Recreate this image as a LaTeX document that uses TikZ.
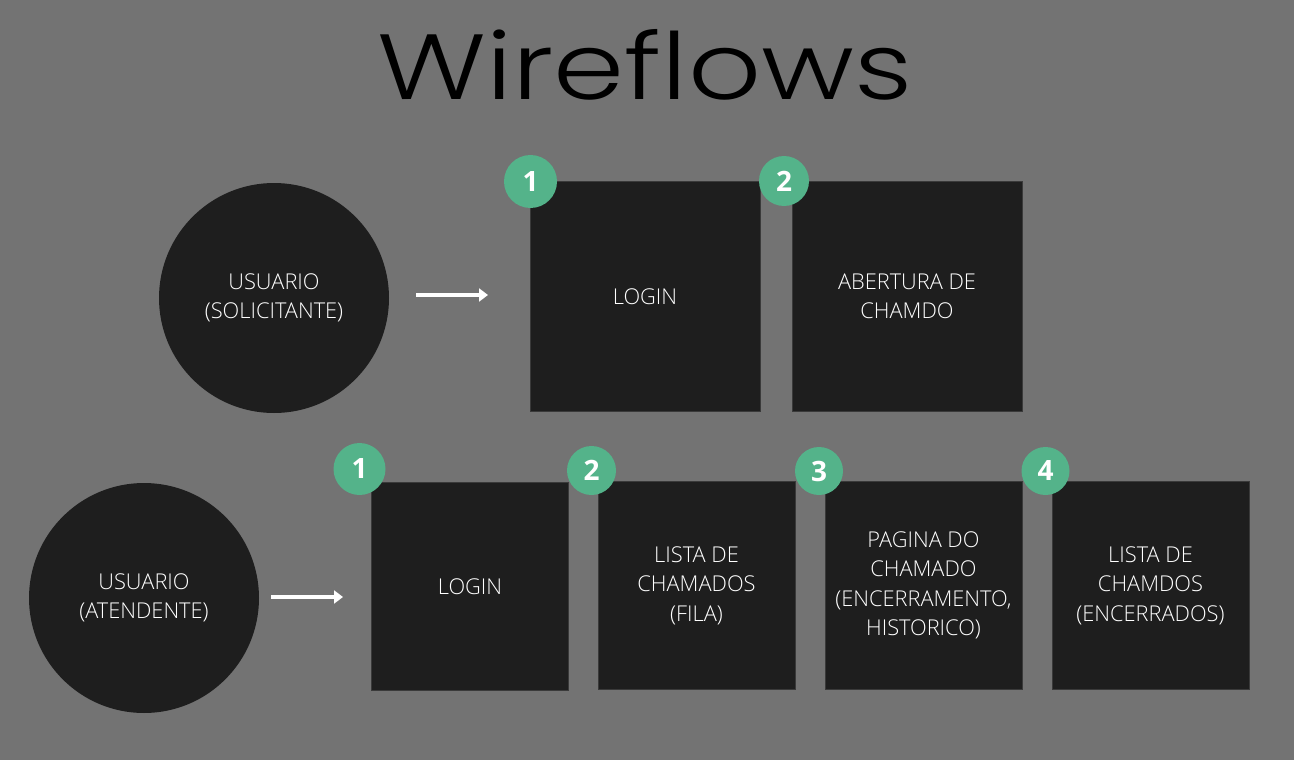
\documentclass[tikz,border=0pt]{standalone}
\usepackage{fontspec}
\usepackage{graphicx}
\setmainfont{Open Sans Light}
\newfontfamily\badgefont{Open Sans}
\newfontfamily\titlefont{Poppins Light}
\usetikzlibrary{arrows.meta}
\definecolor{canvas}{HTML}{737373}
\definecolor{panel}{HTML}{1E1E1E}
\definecolor{paneledge}{HTML}{3A3A3A}
\definecolor{badgegreen}{HTML}{54B38A}
\begin{document}
\begin{tikzpicture}[x=1pt,y=-1pt,
  screen/.style={draw=paneledge,line width=1pt,fill=panel,text=white,align=center,
    inner sep=0pt,font=\fontsize{21.8}{29.5}\selectfont},
  bigscreen/.style={screen,minimum width=230pt,minimum height=230pt},
  smallscreen/.style={screen,minimum width=197pt,minimum height=208pt},
  actor/.style={circle,fill=panel,text=white,align=center,minimum size=230pt,
    inner sep=0pt,font=\fontsize{21.8}{29.5}\selectfont},
  badge/.style={circle,fill=badgegreen,text=white,inner sep=0pt,
    font=\badgefont\bfseries\fontsize{28}{28}\selectfont},
  flow/.style={draw=white,line width=3.5pt,-{Triangle[length=9pt,width=13pt]}}]
  % page and background
  \fill[canvas] (0,0) rectangle (1294,760);
  \useasboundingbox (0,0) rectangle (1294,760);

  % title
  \node[anchor=base,inner sep=0pt] (title) at (645,100)
    {\resizebox{535pt}{70pt}{\titlefont Wireflows}};

  % requester flow
  \node[actor] (req) at (274,298) {USUARIO\\(SOLICITANTE)};
  \node[bigscreen] (rlogin) at (645,296.5) {LOGIN};
  \node[bigscreen] (ropen) at (907,296.5) {ABERTURA DE\\CHAMDO};
  \node[badge,minimum size=53pt] (rb1) at (530.5,181.5) {1};
  \node[badge,minimum size=50pt] (rb2) at (784,181) {2};
  \coordinate (ra0) at (416,295);
  \coordinate (ra1) at (488,295);
  \draw[flow] (ra0) -- (ra1);

  % agent flow
  \node[actor] (agt) at (144,598) {USUARIO\\(ATENDENTE)};
  \node[smallscreen] (alogin) at (470,586.5) {LOGIN};
  \node[smallscreen] (aqueue) at (696.5,585.5) {LISTA DE\\CHAMADOS\\(FILA)};
  \node[smallscreen] (aticket) at (923.5,585.5) {PAGINA DO\\CHAMADO\\(ENCERRAMENTO,\\HISTORICO)};
  \node[smallscreen] (aclosed) at (1150.5,585.5) {LISTA DE\\CHAMDOS\\(ENCERRADOS)};
  \node[badge,minimum size=52pt] (ab1) at (359.5,469) {1};
  \node[badge,minimum size=49pt] (ab2) at (591.5,470.5) {2};
  \node[badge,minimum size=48pt] (ab3) at (819,471) {3};
  \node[badge,minimum size=48pt] (ab4) at (1045.5,471) {4};
  \coordinate (aa0) at (271,597);
  \coordinate (aa1) at (343,597);
  \draw[flow] (aa0) -- (aa1);
\end{tikzpicture}
\end{document}
